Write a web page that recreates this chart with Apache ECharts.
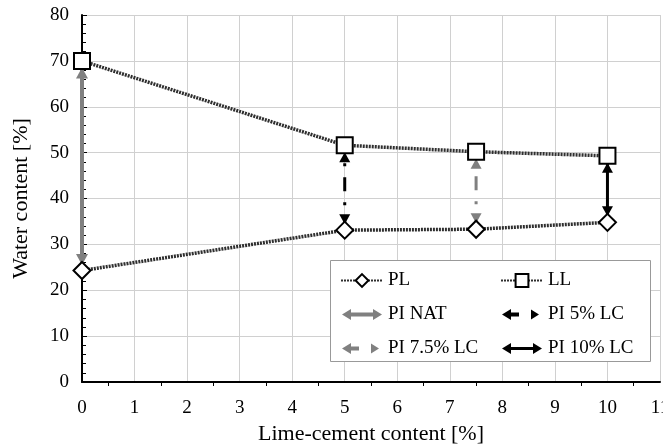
<!DOCTYPE html>
<html><head><meta charset="utf-8">
<script src="https://cdn.jsdelivr.net/npm/echarts@6/dist/echarts.min.js"></script>
<style>html,body{margin:0;padding:0;background:#fff}#c{width:663px;height:445px}</style>
</head><body><div id="c"></div>
<script>
const xLC = [0, 5, 7.5, 10];
const PL = [24.3, 33.1, 33.3, 34.8];
const LL = [70.0, 51.6, 50.2, 49.3];
const piNames = ['PI NAT', 'PI 5% LC', 'PI 7.5% LC', 'PI 10% LC'];
const xTicks = [0,1,2,3,4,5,6,7,8,9,10,11];
const yTicks = [0,10,20,30,40,50,60,70,80];

const FONT = 'Liberation Serif';
const piColors = ['#808080', '#000000', '#808080', '#000000'];
const piWidths = [4, 3, 3, 3];
const piTypes = ['solid', [14, 11, 3, 11], [14, 11, 3, 11], 'solid'];
const piHead = [[12, 11], [11, 10], [11, 10], [11, 10]];

// legend icons drawn in a 42x16 box (tiny corner marks fix the bounding box)
const box = 'M0 0L0.01 0L0 0.01ZM42 16L41.99 16L42 15.99Z';
const iconFull = 'path://' + box + 'M1 8L10 2.5L10 6L32 6L32 2.5L41 8L32 13.5L32 10L10 10L10 13.5Z';
const iconThin = 'path://' + box + 'M1 8L10 2.5L10 6.6L32 6.6L32 2.5L41 8L32 13.5L32 9.4L10 9.4L10 13.5Z';
const iconDash = 'path://' + box + 'M1 8L10 2.5L10 6L18 6L18 10L10 10L10 13.5ZM30 3L38 8L30 13Z';
const piIcons = [iconFull, iconDash, iconDash, iconThin];

const chart = echarts.init(document.getElementById('c'), null, {renderer: 'canvas'});

const seriesLine = (name, vals, sym, size) => ({
  name, type: 'line', z: 4,
  data: xLC.map((x, i) => [x, vals[i]]),
  symbol: sym, symbolSize: size,
  lineStyle: {color: '#2e2e2e', width: 3.5, type: [2, 1]},
  itemStyle: {color: '#ffffff', borderColor: '#000', borderWidth: 2},
  color: '#2e2e2e'
});

const piSeries = piNames.map((n, i) => ({
  name: n, type: 'line', z: 3,
  symbol: 'triangle', symbolSize: piHead[i],
  lineStyle: {color: piColors[i], width: piWidths[i], type: piTypes[i]},
  itemStyle: {color: piColors[i], borderWidth: 0},
  color: piColors[i],
  data: [
    {value: [xLC[i], PL[i]], symbolRotate: 180, symbolOffset: [0, -11]},
    {value: [xLC[i], LL[i]], symbolRotate: 0, symbolOffset: [0, 12]}
  ]
}));

const legendItem = (n) => {
  const i = piNames.indexOf(n);
  if (i < 0) return {name: n};
  return {name: n, icon: piIcons[i], itemStyle: {color: piColors[i], borderWidth: 0, opacity: 1}};
};

const legendBase = {
  orient: 'vertical', itemWidth: 42, itemHeight: 16, itemGap: 15, z: 10,
  textStyle: {fontFamily: FONT, fontSize: 19, color: '#000', lineHeight: 19},
  selectedMode: false
};

chart.setOption({
  animation: false,
  backgroundColor: '#fff',
  grid: {left: 82, right: 3, top: 15, bottom: 63, outerBoundsMode: 'none', containLabel: false},
  graphic: [{
    type: 'rect', z: 8, left: 330, top: 260,
    shape: {width: 320, height: 101},
    style: {fill: '#fff', stroke: '#999', lineWidth: 1}
  }],
  legend: [
    Object.assign({}, legendBase, {left: 335, top: 266, data: ['PL', 'PI NAT', 'PI 7.5% LC'].map(legendItem)}),
    Object.assign({}, legendBase, {left: 495, top: 266, data: ['LL', 'PI 5% LC', 'PI 10% LC'].map(legendItem)})
  ],
  xAxis: {
    type: 'value', min: xTicks[0], max: xTicks[xTicks.length - 1], interval: 1,
    name: 'Lime-cement content [%]', nameLocation: 'middle', nameGap: 38,
    nameTextStyle: {fontFamily: FONT, fontSize: 22, color: '#000'},
    axisLine: {show: true, onZero: false, lineStyle: {color: '#000', width: 2}},
    axisTick: {show: false},
    minorTick: {show: true, splitNumber: 2, length: 4, lineStyle: {color: '#000', width: 1}},
    axisLabel: {fontFamily: FONT, fontSize: 19, color: '#000', margin: 17},
    splitLine: {show: true, lineStyle: {color: '#d0d0d0', width: 1}}
  },
  yAxis: {
    type: 'value', min: yTicks[0], max: yTicks[yTicks.length - 1], interval: 10,
    name: 'Water content [%]', nameLocation: 'middle', nameGap: 50,
    nameTextStyle: {fontFamily: FONT, fontSize: 22, color: '#000'},
    axisLine: {show: true, onZero: false, lineStyle: {color: '#000', width: 2}},
    axisTick: {show: true, inside: true, length: 5, lineStyle: {color: '#000', width: 1}},
    minorTick: {show: true, splitNumber: 5, length: 4, lineStyle: {color: '#000', width: 1}},
    axisLabel: {fontFamily: FONT, fontSize: 19, color: '#000', margin: 13},
    splitLine: {show: true, lineStyle: {color: '#d0d0d0', width: 1}}
  },
  series: [seriesLine('PL', PL, 'diamond', 17), seriesLine('LL', LL, 'rect', 16)].concat(piSeries)
});
</script></body></html>
